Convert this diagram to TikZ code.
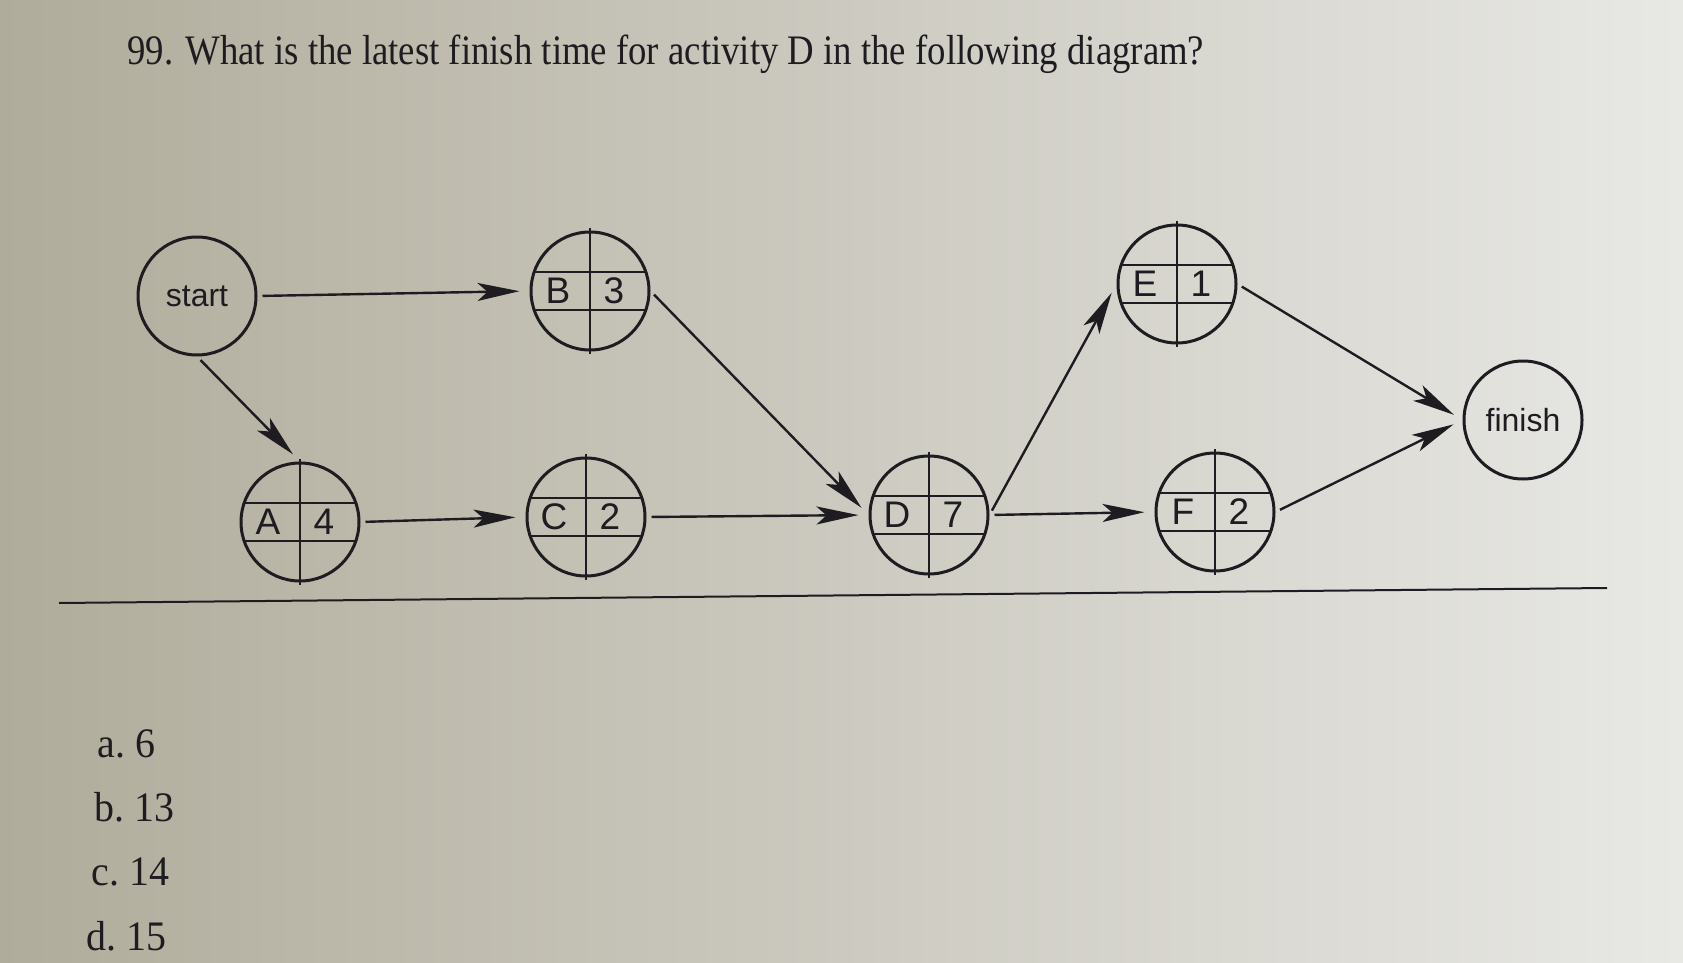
\documentclass[tikz,border=0pt]{standalone}
\usepackage{fontspec}
\setmainfont{Liberation Serif}[FakeStretch=0.875]
\newfontfamily\answerfont{Liberation Serif}[FakeStretch=0.95]
\setsansfont{Liberation Sans}
\usetikzlibrary{arrows.meta}

\definecolor{paperdark}{RGB}{176,172,155}
\definecolor{paperlight}{RGB}{232,232,229}
\definecolor{ink}{RGB}{30,28,32}

\tikzset{
  cellline/.style={draw=ink,line width=1.3pt},
  celltext/.style={draw=none,inner sep=0pt,text=ink,font=\sffamily\fontsize{18.5}{20}\selectfont},
  link/.style={->,draw=ink,line width=1.2pt,shorten <=2.5pt,shorten >=5pt},
  questiontext/.style={anchor=west,inner sep=0pt,text=ink,font=\fontsize{21}{24}\selectfont},
  answer/.style={anchor=west,inner sep=0pt,text=ink,font=\answerfont\fontsize{21}{24}\selectfont}
}

\begin{document}
\begin{tikzpicture}[x=0.5pt,y=-0.5pt]
\fill[left color=paperdark,right color=paperlight] (0,0) rectangle (1683,963);
\useasboundingbox (0,0) rectangle (1683,963);

\node[questiontext] (question) at (127,54) {99. What is the latest finish time for activity D in the following diagram?};

\begin{scope}[every node/.style={circle,draw=ink,line width=1.5pt,minimum size=59pt,inner sep=0pt,
                                 text=ink,font=\sffamily\fontsize{16}{18}\selectfont}]
    \node (start) at (197,296) {start};
    \node (A) at (300,522) {};
    \node (B) at (590,291) {};
    \node (C) at (586,517) {};
    \node (D) at (929,515) {};
    \node (E) at (1177,284) {};
    \node (F) at (1215,512) {};
    \node (finish) at (1523,420) {finish};
\end{scope}

% grid and text of each activity
\foreach \n/\d in {A/4,B/3,C/2,D/7,E/1,F/2} {
    \begin{scope}[shift={(\n.center)}]
        \draw[cellline] (0,-63) -- (0,63);
        \draw[cellline] (-56,-19) -- (56,-19);
        \draw[cellline] (-56,19) -- (56,19);
    \end{scope}
    \node[celltext] (\n-name) at ([xshift=-16pt]\n.center) {\n};
    \node[celltext] (\n-dur) at ([xshift=12pt]\n.center) {\d};
}

\begin{scope}[>={Stealth[length=21pt,width=9pt,inset=5pt]}]
    \draw[link] (start.east) -- (B.west);
    \draw[link] (start.south) -- (A.north);
    \draw[link] (A.east) -- (C.west);
    \draw[link] (B.east) -- (D.west);
    \draw[link] (C.east) -- (D.west);
    \draw[link] (D.east) -- (E.west);
    \draw[link] (D.east) -- (F.west);
    \draw[link] (E.east) -- (finish.west);
    \draw[link] (F.east) -- (finish.west);
\end{scope}

\draw[ink,line width=1pt] (59,603) -- (1607,588);

\node[answer] (ansA) at (97,744) {a.\ 6};
\node[answer] (ansB) at (94,807) {b.\ 13};
\node[answer] (ansC) at (91,872) {c.\ 14};
\node[answer] (ansD) at (86,936) {d.\ 15};
\end{tikzpicture}
\end{document}
